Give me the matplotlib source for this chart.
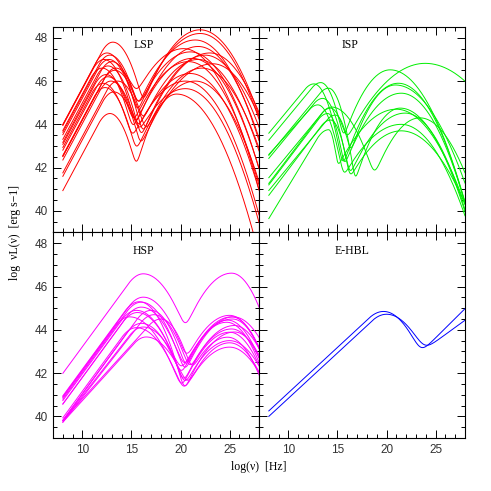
import numpy as np
import matplotlib
matplotlib.use("Agg")
import matplotlib.pyplot as plt
from matplotlib.ticker import MultipleLocator

# ---------------- data ----------------
# Each SED = synchrotron hump + inverse-Compton hump (log nu, log nuL)
# LSP
lsp_xs = [13.1, 12.5, 12.8, 12.2, 13.0, 12.6, 12.0, 13.3, 12.4, 13.6, 12.9, 12.3, 13.2, 12.8, 12.7, 13.4, 12.1, 12.6]
lsp_Ls = [47.8, 47.3, 47.2, 47.0, 46.9, 46.7, 46.6, 46.5, 46.3, 46.0, 46.0, 45.7, 45.5, 44.5, 47.0, 46.6, 45.9, 46.2]
lsp_as = [0.85] * 18
lsp_bsr = [0.3, 0.3, 0.3, 0.3, 0.3, 0.3, 0.3, 0.3, 0.3, 0.3, 0.3, 0.3, 0.3, 0.35, 0.3, 0.3, 0.3, 0.3]
lsp_xc = [22.0, 22.0, 21.5, 21.8, 21.0, 22.5, 21.2, 21.8, 20.8, 22.2, 21.0, 21.5, 20.5, 19.6, 23.0, 20.3, 20.5, 23.3]
lsp_Lc = [48.37, 48.2, 47.9, 47.6, 47.35, 47.2, 47.05, 47.0, 46.9, 46.6, 46.35, 46.0, 45.65, 45.4, 47.3, 47.5, 46.0, 46.8]
lsp_bcl = [0.1, 0.09, 0.09, 0.09, 0.09, 0.09, 0.09, 0.09, 0.09, 0.09, 0.09, 0.09, 0.09, 0.2, 0.08, 0.09, 0.09, 0.07]
lsp_bcr = [0.11, 0.11, 0.11, 0.11, 0.11, 0.11, 0.11, 0.11, 0.11, 0.11, 0.11, 0.11, 0.11, 0.105, 0.11, 0.11, 0.11, 0.11]
lsp_ac = [5.0] * 18

# ISP
isp_xs = [12.6, 13.3, 14.1, 14.3, 14.0, 14.8, 14.3, 14.1, 14.4, 13.5, 13.0]
isp_Ls = [45.87, 45.93, 45.67, 44.75, 44.5, 44.43, 44.2, 43.75, 44.8, 45.2, 44.9]
isp_as = [0.55, 0.55, 0.55, 0.6, 0.6, 0.55, 0.6, 0.75, 0.55, 0.55, 0.5]
isp_bsr = [0.45, 0.5, 0.6, 0.6, 0.9, 0.8, 0.7, 2.2, 0.17, 0.5, 0.5]
isp_xc = [21.2, 20.37, 21.4, 23.94, 21.5, 20.9, 21.9, 21.0, 23.4, 21.5, 21.5]
isp_Lc = [45.9, 46.52, 44.75, 46.82, 45.44, 45.82, 44.52, 44.7, 44.3, 43.7, 44.0]
isp_bcl = [0.12, 0.14, 0.16, 0.055, 0.1, 0.15, 0.09, 0.075, 0.125, 0.08, 0.07]
isp_bcr = [0.12, 0.105, 0.11, 0.05, 0.12, 0.09, 0.12, 0.09, 0.12, 0.08, 0.1]
isp_ac = [5.0] * 11

# HSP
hsp_xs = [16.2, 16.2, 16.0, 16.0, 15.5, 17.3, 14.8, 18.0, 15.5, 16.2, 16.5, 15.8, 17.0, 16.0, 15.6]
hsp_Ls = [46.59, 45.51, 45.28, 45.05, 44.9, 44.7, 44.6, 44.5, 44.1, 44.13, 43.67, 45.3, 44.9, 44.3, 44.8]
hsp_as = [0.62, 0.62, 0.62, 0.62, 0.62, 0.58, 0.62, 0.5, 0.62, 0.58, 0.5, 0.62, 0.62, 0.62, 0.62]
hsp_bsr = [0.14, 0.15, 0.17, 0.15, 0.15, 0.2, 0.12, 0.25, 0.13, 0.14, 0.13, 0.2, 0.22, 0.15, 0.15]
hsp_xc = [25.2, 25.0, 25.4, 24.7, 25.5, 25.2, 25.0, 24.8, 25.0, 25.3, 25.0, 25.5, 24.8, 25.2, 25.0]
hsp_Lc = [46.62, 44.67, 44.6, 44.35, 44.2, 44.04, 43.89, 43.66, 43.2, 44.5, 43.4, 43.9, 44.45, 44.6, 43.5]
hsp_bcl = [0.116, 0.105, 0.105, 0.115, 0.1, 0.105, 0.11, 0.115, 0.095, 0.09, 0.11, 0.105, 0.125, 0.105, 0.1]
hsp_bcr = [0.2, 0.17, 0.14, 0.17, 0.17, 0.17, 0.17, 0.17, 0.13, 0.18, 0.15, 0.17, 0.17, 0.18, 0.13]
hsp_ac = [5.0] * 15

# E-HBL
ehbl_xs = [19.7, 20.0]
ehbl_Ls = [44.85, 44.72]
ehbl_as = [0.42, 0.42]
ehbl_bsr = [0.14, 0.12]
ehbl_xc = [32.0, 32.0]
ehbl_Lc = [46.27, 45.49]
ehbl_bcl = [0.1, 0.1]
ehbl_bcr = [0.1, 0.1]
ehbl_ac = [0.45, 0.33]

SYN_BL = {"LSP": 0.35, "ISP": 0.3, "HSP": 0.2, "E-HBL": 0.14}

panels = [
    ("LSP", "#ff0000", lsp_xs, lsp_Ls, lsp_as, lsp_bsr, lsp_xc, lsp_Lc, lsp_bcl, lsp_bcr, lsp_ac),
    ("ISP", "#00ee00", isp_xs, isp_Ls, isp_as, isp_bsr, isp_xc, isp_Lc, isp_bcl, isp_bcr, isp_ac),
    ("HSP", "#ff00ff", hsp_xs, hsp_Ls, hsp_as, hsp_bsr, hsp_xc, hsp_Lc, hsp_bcl, hsp_bcr, hsp_ac),
    ("E-HBL", "#0000ff", ehbl_xs, ehbl_Ls, ehbl_as, ehbl_bsr, ehbl_xc, ehbl_Lc, ehbl_bcl, ehbl_bcr, ehbl_ac),
]


def hump(x, xp, Lp, aL, bL, bR):
    """power law below, log-parabola around/after the peak"""
    xt = xp - aL / (2 * bL)
    y = np.where(x >= xp, Lp - bR * (x - xp) ** 2, Lp - bL * (x - xp) ** 2)
    yt = Lp - bL * (xt - xp) ** 2
    return np.where(x < xt, yt + aL * (x - xt), y)


x = np.linspace(8, 28, 800)

fig = plt.figure(figsize=(4.91, 4.91), dpi=100)
axs = fig.subplots(2, 2, sharex=True, sharey=True)
fig.subplots_adjust(left=0.108, right=0.947, bottom=0.108, top=0.945, wspace=0, hspace=0)

tickfont = "Liberation Sans"
serif = "Liberation Serif"

for ax, (name, col, xs, Ls, a_s, bsr, xc, Lc, bcl, bcr, ac) in zip(axs.flat, panels):
    for i in range(len(xs)):
        ys = hump(x, xs[i], Ls[i], a_s[i], SYN_BL[name], bsr[i])
        yc = hump(x, xc[i], Lc[i], ac[i], bcl[i], bcr[i])
        y = np.log10(10 ** (ys - 40) + 10 ** (yc - 40)) + 40
        ax.plot(x, y, color=col, lw=0.7)
    ax.text(0.44 if name != "E-HBL" else 0.45, 0.912, name, transform=ax.transAxes,
            ha="center", va="center", fontsize=8.5, family=serif)
    ax.set_xlim(7, 28)
    ax.set_ylim(39, 48.5)
    ax.xaxis.set_major_locator(MultipleLocator(5))
    ax.xaxis.set_minor_locator(MultipleLocator(1))
    ax.yaxis.set_major_locator(MultipleLocator(2))
    ax.yaxis.set_minor_locator(MultipleLocator(0.5))
    ax.tick_params(which="both", direction="in", top=True, right=True, width=0.7,
                   labelsize=8.5, labelcolor="#333333", pad=4)
    ax.tick_params(which="major", length=6)
    ax.tick_params(which="minor", length=3)
    for lab in ax.get_xticklabels() + ax.get_yticklabels():
        lab.set_family(tickfont)
    for s in ax.spines.values():
        s.set_linewidth(0.8)

fig.text(0.03, 0.526, "log  \u03bdL(\u03bd)  [erg s\u22121]", rotation=90, ha="center", va="center",
         fontsize=8.5, family=serif)
fig.text(0.527, 0.049, "log(\u03bd)  [Hz]", ha="center", va="center", fontsize=8.5, family=serif)

fig.savefig("out.png", dpi=100)
